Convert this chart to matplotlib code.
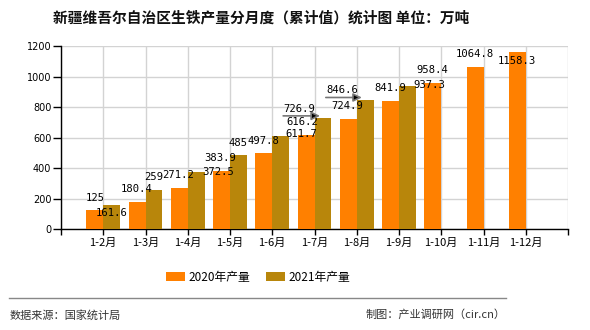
import matplotlib
matplotlib.use('Agg')
import matplotlib.pyplot as plt
import matplotlib.transforms as mtransforms
import numpy as np

plt.rcParams['font.family'] = ['Noto Sans CJK SC', 'DejaVu Sans']

# data (万吨, cumulative)
months = ['1-2月', '1-3月', '1-4月', '1-5月', '1-6月', '1-7月', '1-8月',
          '1-9月', '1-10月', '1-11月', '1-12月']
prod_2020 = [125, 180.4, 271.2, 383.9, 497.8, 616.2, 724.9, 841.9, 958.4, 1064.8, 1158.3]
prod_2021 = [161.6, 259, 372.5, 485, 611.7, 726.9, 846.6, 937.3]
label_2020 = ['125', '180.4', '271.2', '383.9', '497.8', '616.2', '724.9',
              '841.9', '958.4', '1064.8', '1158.3']
label_2021 = ['161.6', '259', '372.5', '485', '611.7', '726.9', '846.6', '937.3']

# label offsets from bar top, in pixels (x right, y up)
off_2020 = [(0, 12.5), (0, 12.8), (-1, 13), (-1.6, 13), (0, 12.4), (-4, 13.3),
            (-0.7, 12.8), (0, 12.6), (0, 13), (-0.5, 13), (-0.8, -8.3)]
off_2021 = [(0, -8), (0, 13), (22, 0), (0, 12), (21, 1.5), (-24, 9.7),
            (-23, 10), (22, 1.4)]
# leader lines on 2021 bars: (start dx, tip dx, dy) in px
leaders = {5: (-39.8, -3, 2.4), 6: (-39.4, -3.4, 2.5)}

c2020 = '#FF8000'
c2021 = '#B8860B'
PX = 0.72  # px -> pt at dpi 100

fig = plt.figure(figsize=(5.9, 3.3), dpi=100)
ax = fig.add_axes([61 / 590, 1 - 229.3 / 330, 507 / 590, 183.3 / 330])

x = np.arange(len(months))
w = 0.4
ax.bar(x[:len(prod_2020)] - w / 2, prod_2020, width=w, color=c2020,
       label='2020年产量', zorder=3)
ax.bar(x[:len(prod_2021)] + w / 2, prod_2021, width=w, color=c2021,
       label='2021年产量', zorder=3)

mono = 'DejaVu Sans Mono'
for i, (v, t) in enumerate(zip(prod_2020, label_2020)):
    dx, dy = off_2020[i]
    ax.annotate(t, (x[i] - w / 2, v), xytext=(dx * PX, dy * PX),
                textcoords='offset points', ha='center', va='center',
                fontsize=7.6, family=mono, color='black', zorder=5)
for i, (v, t) in enumerate(zip(prod_2021, label_2021)):
    dx, dy = off_2021[i]
    ax.annotate(t, (x[i] + w / 2, v), xytext=(dx * PX, dy * PX),
                textcoords='offset points', ha='center', va='center',
                fontsize=7.6, family=mono, color='black', zorder=5)
    if i in leaders:
        sx, tx, ly = leaders[i]
        tip = mtransforms.offset_copy(ax.transData, fig=fig, x=tx * PX, y=ly * PX,
                                      units='points')
        ax.annotate('', (x[i] + w / 2, v), xycoords=tip,
                    xytext=((sx - tx) * PX, 0), textcoords='offset points',
                    arrowprops=dict(arrowstyle='-|>,head_length=0.5,head_width=0.25',
                                    ec='#777777', fc='black', lw=1.2,
                                    shrinkA=0, shrinkB=0),
                    zorder=6)

ax.set_xlim(-1, 11)
ax.set_ylim(0, 1200)
ax.set_yticks(range(0, 1201, 200))
ax.set_xticks(np.arange(-1, 12))
ax.set_xticklabels([''] + months + [''])
ax.tick_params(axis='x', labelsize=8, length=4, width=1, pad=2, color='black')
ax.tick_params(axis='y', labelsize=7, length=6, width=1, pad=1, color='black')
for lbl in ax.get_yticklabels():
    lbl.set_family('DejaVu Sans')

ax.grid(True, color='#d3d3d3', linewidth=1, zorder=0)
ax.set_axisbelow(True)
for s in ['top', 'right']:
    ax.spines[s].set_visible(False)
for s in ['left', 'bottom']:
    ax.spines[s].set_color('black')
    ax.spines[s].set_linewidth(1)

fig.text(261 / 590, 1 - 17 / 330, '新疆维吾尔自治区生铁产量分月度（累计值）统计图 单位：万吨',
         ha='center', va='center', fontsize=10.6, fontweight='bold', color='#111111')

fig.legend(loc='center', bbox_to_anchor=(258 / 590, 1 - 277 / 330), ncol=2,
           frameon=False, fontsize=8.5, handlelength=1.6, handleheight=0.75,
           handletextpad=0.3, columnspacing=1.3)

fig.add_artist(plt.Line2D([9 / 590, 506 / 590], [1 - 298 / 330, 1 - 298 / 330],
                          color='#888888', linewidth=1))
fig.text(10 / 590, 1 - 315 / 330, '数据来源：国家统计局', ha='left', va='center',
         fontsize=8, color='#333333')
fig.text(506 / 590, 1 - 315 / 330, '制图：产业调研网（cir.cn）', ha='right', va='center',
         fontsize=8, color='#333333')

fig.savefig('out.png', dpi=100)
